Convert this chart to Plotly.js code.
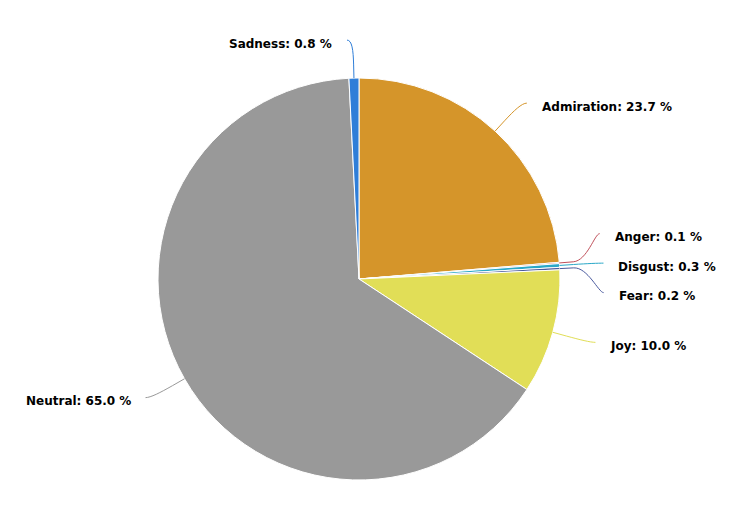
<!DOCTYPE html>
<html>
<head>
<meta charset="utf-8">
<script src="https://cdn.plot.ly/plotly-3.0.1.min.js"></script>
<style>html,body{margin:0;padding:0;background:#fff;}#chart{width:745px;height:505px;}</style>
</head>
<body>
<div id="chart"></div>
<script>
// ---- data ----
const categories = ['Admiration', 'Anger', 'Disgust', 'Fear', 'Joy', 'Neutral', 'Sadness'];
const shares = [23.7, 0.1, 0.3, 0.2, 10.0, 65.0, 0.8];
const sliceColors = ['#D5952A', '#C0505A', '#2AA8C8', '#4A5A9E', '#E1DE57', '#999999', '#2F7ED8'];

// ---- layout constants (pixels) ----
const W = 745, H = 505;
const CX = 359, CY = 279, R = 201;
const LABEL_R = 239;      // radius of label anchors
const BREAK_R = R + 14;   // connector break point radius
const GAP = 29.5;         // min vertical spacing of labels
const TEXT_PAD = 19;      // text offset from anchor
const CONN_PAD = 6;       // connector end offset from anchor
const TEXT_DY = 3.5;      // text vertical offset

const total = shares.reduce((a, b) => a + b, 0);
let cum = 0;
const items = categories.map((c, i) => {
  const mid = (cum + shares[i] / 2) / total * 2 * Math.PI;
  cum += shares[i];
  const s = Math.sin(mid), co = Math.cos(mid);
  return {
    i, name: c, s, co,
    side: s >= 0 ? 1 : -1,
    ideal: CY - LABEL_R * co,
    touch: [CX + R * s, CY - R * co],
    brk: [CX + BREAK_R * s, CY - BREAK_R * co]
  };
});

function distribute(list) {
  list.sort((a, b) => a.ideal - b.ideal);
  let clusters = list.map(it => ({ items: [it] }));
  const mean = cl => cl.items.reduce((a, b) => a + b.ideal, 0) / cl.items.length;
  const start = cl => mean(cl) - (cl.items.length - 1) * GAP / 2;
  let merged = true;
  while (merged) {
    merged = false;
    for (let k = 0; k < clusters.length - 1; k++) {
      const a = clusters[k], b = clusters[k + 1];
      const aEnd = start(a) + (a.items.length - 1) * GAP;
      if (start(b) < aEnd + GAP) {
        clusters.splice(k, 2, { items: a.items.concat(b.items) });
        merged = true;
        break;
      }
    }
  }
  clusters.forEach(cl => {
    const s0 = start(cl);
    cl.items.forEach((it, j) => { it.y = s0 + j * GAP; });
  });
}
distribute(items.filter(it => it.side === 1));
distribute(items.filter(it => it.side === -1));

const shapes = [];
const annotations = [];
items.forEach(it => {
  const dy = it.y - CY;
  const dx = Math.sqrt(Math.max(0, LABEL_R * LABEL_R - dy * dy));
  const lx = CX + it.side * dx;
  const cx = lx + it.side * CONN_PAD;
  const c1x = cx - it.side * 5;
  const c2x = 2 * it.brk[0] - it.touch[0], c2y = 2 * it.brk[1] - it.touch[1];
  shapes.push({
    type: 'path', xref: 'x', yref: 'y', layer: 'above',
    path: `M ${cx} ${it.y} C ${c1x} ${it.y} ${c2x} ${c2y} ${it.brk[0]} ${it.brk[1]} L ${it.touch[0]} ${it.touch[1]}`,
    line: { color: sliceColors[it.i], width: 1 }
  });
  annotations.push({
    xref: 'x', yref: 'y', x: lx + it.side * TEXT_PAD, y: it.y + TEXT_DY,
    xanchor: it.side === 1 ? 'left' : 'right', yanchor: 'middle',
    text: `<b>${it.name}: ${shares[it.i].toFixed(1)} %</b>`,
    showarrow: false,
    font: { family: 'DejaVu Sans, Verdana, sans-serif', size: 12, color: '#000000' }
  });
});

const pie = {
  type: 'pie',
  labels: categories,
  values: shares,
  sort: false,
  direction: 'clockwise',
  rotation: 0,
  textinfo: 'none',
  hoverinfo: 'label+percent',
  marker: { colors: sliceColors, line: { color: '#ffffff', width: 1 } },
  domain: { x: [(CX - R) / W, (CX + R) / W], y: [(H - CY - R) / H, (H - CY + R) / H] },
  showlegend: false
};
const dummy = { type: 'scatter', x: [], y: [], hoverinfo: 'skip', showlegend: false };

const layout = {
  width: W, height: H,
  margin: { l: 0, r: 0, t: 0, b: 0 },
  paper_bgcolor: '#ffffff', plot_bgcolor: 'rgba(0,0,0,0)',
  showlegend: false,
  xaxis: { range: [0, W], visible: false, fixedrange: true },
  yaxis: { range: [H, 0], visible: false, fixedrange: true },
  shapes, annotations
};
Plotly.newPlot('chart', [pie, dummy], layout, { displayModeBar: false, staticPlot: true });
</script>
</body>
</html>
